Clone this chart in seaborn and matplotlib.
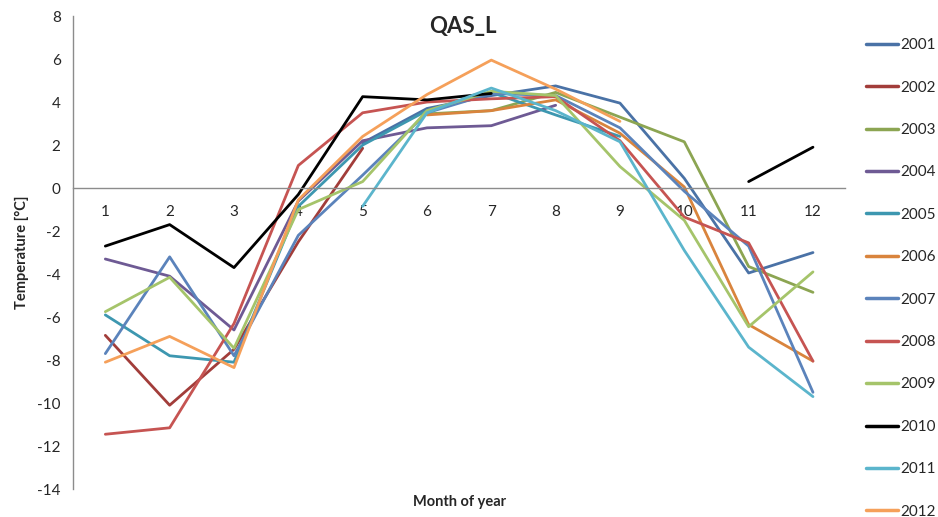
import numpy as np
import pandas as pd
import matplotlib
matplotlib.use("Agg")
import matplotlib.pyplot as plt
import seaborn as sns

months = list(range(1, 13))
month_labels = [str(m) for m in months]
nan = np.nan

t2001 = [nan, nan, nan, nan, 2.1, 3.7, 4.3, 4.75, 3.95, 0.45, -3.95, -3.0]
t2002 = [-6.85, -10.1, -7.5, -2.5, 1.85, nan, nan, nan, nan, nan, nan, nan]
t2003 = [nan, nan, nan, nan, nan, 3.45, 3.6, 4.45, 3.3, 2.15, -3.65, -4.85]
t2004 = [-3.3, -4.1, -6.6, -0.6, 2.2, 2.8, 2.9, 3.85, nan, nan, nan, nan]
t2005 = [-5.9, -7.8, -8.1, -0.85, 2.0, 3.6, 4.45, 3.4, 2.4, nan, nan, nan]
t2006 = [nan, nan, nan, nan, nan, 3.4, 3.6, 4.1, 2.55, 0.05, -6.35, -8.05]
t2007 = [-7.7, -3.2, -7.8, -2.2, 0.6, 3.5, 4.4, 4.3, 2.8, -0.15, -2.7, -9.5]
t2008 = [-11.45, -11.15, -6.3, 1.05, 3.5, 4.0, 4.15, 4.25, 2.2, -1.35, -2.55, -8.05]
t2009 = [-5.75, -4.15, -7.45, -1.0, 0.3, 3.6, 4.5, 4.3, 1.0, -1.5, -6.45, -3.9]
t2010 = [-2.7, -1.7, -3.7, -0.3, 4.25, 4.1, 4.4, nan, nan, nan, 0.3, 1.9]
t2011 = [nan, nan, nan, nan, -0.85, 3.5, 4.65, 3.6, 2.15, -2.9, -7.4, -9.7]
t2012 = [-8.1, -6.9, -8.35, -0.55, 2.4, 4.35, 5.95, 4.6, 3.1, nan, nan, nan]

years = ["2001", "2002", "2003", "2004", "2005", "2006",
         "2007", "2008", "2009", "2010", "2011", "2012"]
series = [t2001, t2002, t2003, t2004, t2005, t2006,
          t2007, t2008, t2009, t2010, t2011, t2012]
colors = ["#4A72A6", "#A23D3A", "#8CA552", "#6E5A94", "#3D97B0", "#D9843D",
          "#5B83BB", "#C65452", "#A5C46A", "#000000", "#5BB5CC", "#F5A05A"]

# long-form table; split each year into contiguous segments so gaps stay gaps
rows = []
for y, vals in zip(years, series):
    seg = 0
    prev_nan = True
    for m, v in zip(months, vals):
        if np.isnan(v):
            prev_nan = True
            continue
        if prev_nan:
            seg += 1
            prev_nan = False
        rows.append({"month": m, "temp": v, "year": y, "seg": f"{y}_{seg}"})
df = pd.DataFrame(rows)

sns.set_style("white")
plt.rcParams["font.family"] = ["Lato", "DejaVu Sans"]

fig = plt.figure(figsize=(9.38, 5.17), dpi=100)
ax = fig.add_axes([0.078, 0.054, 0.823, 0.915])

sns.lineplot(data=df, x="month", y="temp", hue="year", units="seg",
             estimator=None, palette=dict(zip(years, colors)),
             hue_order=years, linewidth=2.0, ax=ax, legend=False, sort=True)

ax.set_xlim(0.5, 12.5)
ax.set_ylim(-14, 8)
ax.set_yticks(np.arange(-14, 9, 2))
ax.set_yticklabels([str(v) for v in range(-14, 9, 2)], fontsize=11)

ax.spines["top"].set_visible(False)
ax.spines["right"].set_visible(False)
ax.spines["bottom"].set_position(("data", 0))
for s in ("left", "bottom"):
    ax.spines[s].set_color("#8C8C8C")
    ax.spines[s].set_linewidth(1.0)

ax.set_xticks(np.arange(0.5, 12.6, 1.0))
ax.set_xticklabels([])
ax.set_xticks(months, minor=True)
ax.set_xticklabels(month_labels, minor=True, fontsize=11)
ax.tick_params(axis="x", which="major", direction="out", length=5,
               color="#8C8C8C", width=1)
ax.tick_params(axis="x", which="minor", length=0, pad=12)
ax.tick_params(axis="y", direction="out", length=5, color="#8C8C8C",
               width=1, pad=4)

ax.set_xlabel("")
ax.set_ylabel("Temperature [°C]", fontsize=10.5, fontweight="bold", labelpad=6)
ax.text(0.505, 1.0, "QAS_L", transform=ax.transAxes, ha="center", va="top",
        fontsize=16, fontweight="bold")
ax.text(0.5, -0.012, "Month of year", transform=ax.transAxes, ha="center",
        va="top", fontsize=10.5, fontweight="bold")

handles = [plt.Line2D([0], [0], color=c, lw=2.5) for c in colors]
fig.legend(handles, years, loc="upper left", bbox_to_anchor=(0.917, 0.938),
           frameon=False, fontsize=11, labelspacing=1.86, handlelength=2.1,
           handletextpad=0.15, borderaxespad=0)

fig.savefig("out.png", dpi=100)
